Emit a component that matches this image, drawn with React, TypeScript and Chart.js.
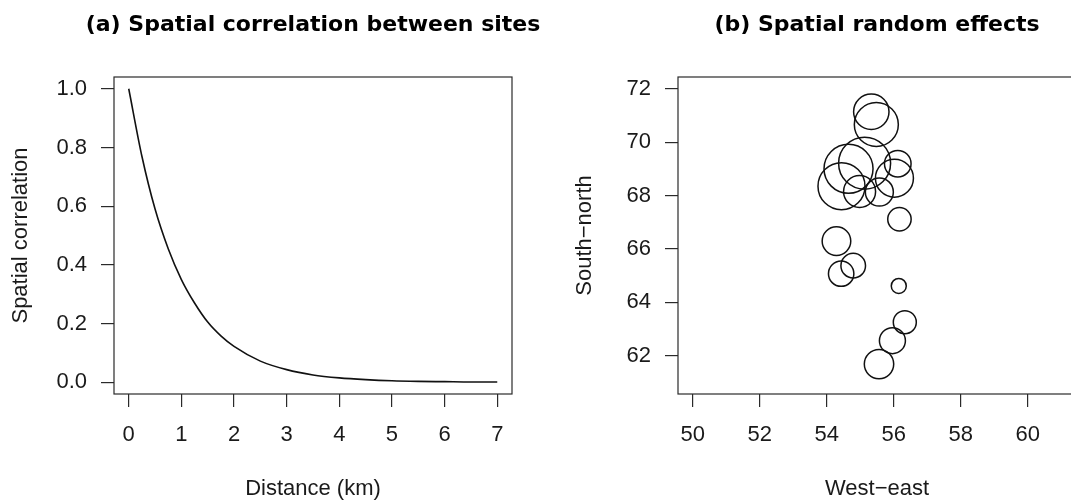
import React, { useEffect, useRef } from "react";
import { Chart, registerables } from "chart.js";

Chart.register(...registerables);

// ---- Panel (a): spatial correlation vs distance ----
const distanceKm = [0, 0.25, 0.5, 0.75, 1, 1.25, 1.5, 1.75, 2, 2.5, 3, 3.5, 4, 4.5, 5, 5.5, 6, 6.5, 7];
const spatialCorrelation = [1.0, 0.77, 0.59, 0.455, 0.35, 0.27, 0.205, 0.158, 0.122, 0.072, 0.043, 0.025, 0.015, 0.009, 0.005, 0.003, 0.002, 0.001, 0.001];
const distanceTicks = [0, 1, 2, 3, 4, 5, 6, 7];
const correlationTicks = [0, 0.2, 0.4, 0.6, 0.8, 1.0];

// ---- Panel (b): spatial random effects ----
const siteWestEast = [55.33, 55.48, 55.13, 54.65, 54.44, 54.98, 55.57, 56.02, 56.12, 56.17, 54.29, 54.79, 54.43, 56.15, 56.33, 55.96, 55.56];
const siteSouthNorth = [71.14, 70.66, 69.21, 69.0, 68.35, 68.15, 68.13, 68.65, 69.19, 67.11, 66.29, 65.37, 65.07, 64.61, 63.25, 62.56, 61.68];
const effectSize = [17.7, 22, 26, 24.5, 23.5, 16, 14, 19, 13.3, 11.7, 14.3, 12.3, 12.7, 7.5, 11.5, 13, 14.7];
const westEastTicks = [50, 52, 54, 56, 58, 60];
const southNorthTicks = [62, 64, 66, 68, 70, 72];

const FONT = "'Liberation Sans', Arial, Helvetica, sans-serif";
const TITLE_FONT = "'DejaVu Sans', 'Liberation Sans', sans-serif";
const TEXT = "#1a1a1a";
const LINE = "#2a2a2a";

const boxPlugin = {
  id: "rbox",
  beforeDatasetsDraw(chart: any) {
    const { ctx, chartArea } = chart;
    const { left, top, right, bottom } = chartArea;
    ctx.save();
    ctx.strokeStyle = LINE;
    ctx.lineWidth = 1.2;
    ctx.strokeRect(left, top, right - left, bottom - top);
    ctx.restore();
  },
};

function axis(opts: {
  min: number;
  max: number;
  ticks: number[];
  fmt: (v: number) => string;
  title: string;
  horizontal: boolean;
  size: number;
  titlePad: any;
}) {
  return {
    type: "linear",
    min: opts.min,
    max: opts.max,
    afterBuildTicks: (s: any) => {
      s.ticks = opts.ticks.map((v) => ({ value: v }));
    },
    afterFit: (s: any) => {
      if (opts.horizontal) s.height = opts.size;
      else s.width = opts.size;
    },
    grid: {
      display: true,
      drawOnChartArea: false,
      drawTicks: true,
      tickLength: 13,
      color: LINE,
      lineWidth: 1.2,
    },
    border: { display: false },
    ticks: {
      padding: opts.horizontal ? 15 : 14,
      color: TEXT,
      font: { family: FONT, size: 22, lineHeight: 1.2 },
      maxRotation: 0,
      autoSkip: false,
      callback: (v: any) => opts.fmt(Number(v)),
    },
    title: {
      display: true,
      text: opts.title,
      color: TEXT,
      font: { family: FONT, size: 22, lineHeight: 1.2 },
      padding: opts.titlePad,
    },
  };
}

// an empty right-hand spacer axis, used only to fix where the plot box ends
function spacerAxis(width: number) {
  return {
    type: "linear",
    position: "right",
    display: true,
    grid: { display: false },
    border: { display: false },
    ticks: { display: false },
    title: { display: false },
    afterFit: (s: any) => {
      s.width = width;
    },
  };
}

function titleOpts(text: string, fullSize: boolean) {
  return {
    display: true,
    text,
    fullSize,
    color: "#000",
    font: { family: TITLE_FONT, size: 22, weight: "bold", lineHeight: 1.2 },
    padding: { top: 11.8, bottom: 38.8 },
  };
}

function CorrelationChart() {
  const ref = useRef<HTMLCanvasElement>(null);
  useEffect(() => {
    if (!ref.current) return;
    const chart = new Chart(ref.current, {
      type: "line",
      data: {
        datasets: [
          {
            data: distanceKm.map((d, i) => ({ x: d, y: spatialCorrelation[i] })),
            borderColor: "#111",
            borderWidth: 1.6,
            pointRadius: 0,
            fill: false,
            cubicInterpolationMode: "monotone",
            yAxisID: "y",
          },
        ],
      },
      options: {
        animation: false,
        responsive: false,
        events: [],
        layout: { autoPadding: false, padding: 0 },
        plugins: {
          legend: { display: false },
          tooltip: { enabled: false },
          title: titleOpts("(a) Spatial correlation between sites", true),
        },
        scales: {
          x: axis({
            min: -0.28,
            max: 7.28,
            ticks: distanceTicks,
            fmt: (v) => String(v),
            title: "Distance (km)",
            horizontal: true,
            size: 106,
            titlePad: { top: 0, bottom: -2 },
          }),
          y: axis({
            min: -0.04,
            max: 1.04,
            ticks: correlationTicks,
            fmt: (v) => v.toFixed(1),
            title: "Spatial correlation",
            horizontal: false,
            size: 114,
            titlePad: { top: 8, bottom: 0 },
          }),
          yRight: spacerAxis(114),
        },
      } as any,
      plugins: [boxPlugin],
    });
    return () => chart.destroy();
  }, []);
  return (
    <canvas
      ref={ref}
      width={626}
      height={500}
      style={{ position: "absolute", left: 0, top: 0, width: 626, height: 500 }}
    />
  );
}

function EffectsChart() {
  const ref = useRef<HTMLCanvasElement>(null);
  useEffect(() => {
    if (!ref.current) return;
    const chart = new Chart(ref.current, {
      type: "bubble",
      data: {
        datasets: [
          {
            data: siteWestEast.map((x, i) => ({ x, y: siteSouthNorth[i], r: effectSize[i] })),
            borderColor: "#111",
            backgroundColor: "rgba(0,0,0,0)",
            borderWidth: 1.5,
            hoverRadius: 0,
          },
        ],
      },
      options: {
        animation: false,
        responsive: false,
        events: [],
        layout: { autoPadding: false, padding: { left: 0, right: 4, top: 0, bottom: 0 } },
        plugins: {
          legend: { display: false },
          tooltip: { enabled: false },
          title: titleOpts("(b) Spatial random effects", false),
        },
        scales: {
          x: axis({
            min: 49.56,
            max: 61.44,
            ticks: westEastTicks,
            fmt: (v) => String(v),
            title: "West\u2212east",
            horizontal: true,
            size: 106,
            titlePad: { top: 0, bottom: -2 },
          }),
          y: axis({
            min: 60.56,
            max: 72.44,
            ticks: southNorthTicks,
            fmt: (v) => String(v),
            title: "South\u2212north",
            horizontal: false,
            size: 143,
            titlePad: { top: 36.3, bottom: 0 },
          }),
        },
      } as any,
      plugins: [boxPlugin],
    });
    return () => chart.destroy();
  }, []);
  return (
    <canvas
      ref={ref}
      width={545}
      height={500}
      style={{ position: "absolute", left: 535, top: 0, width: 545, height: 500 }}
    />
  );
}

export default function App() {
  return (
    <div
      style={{
        position: "absolute",
        left: 0,
        top: 0,
        width: 1071,
        height: 500,
        overflow: "hidden",
        background: "#fff",
      }}
    >
      <CorrelationChart />
      <EffectsChart />
    </div>
  );
}
